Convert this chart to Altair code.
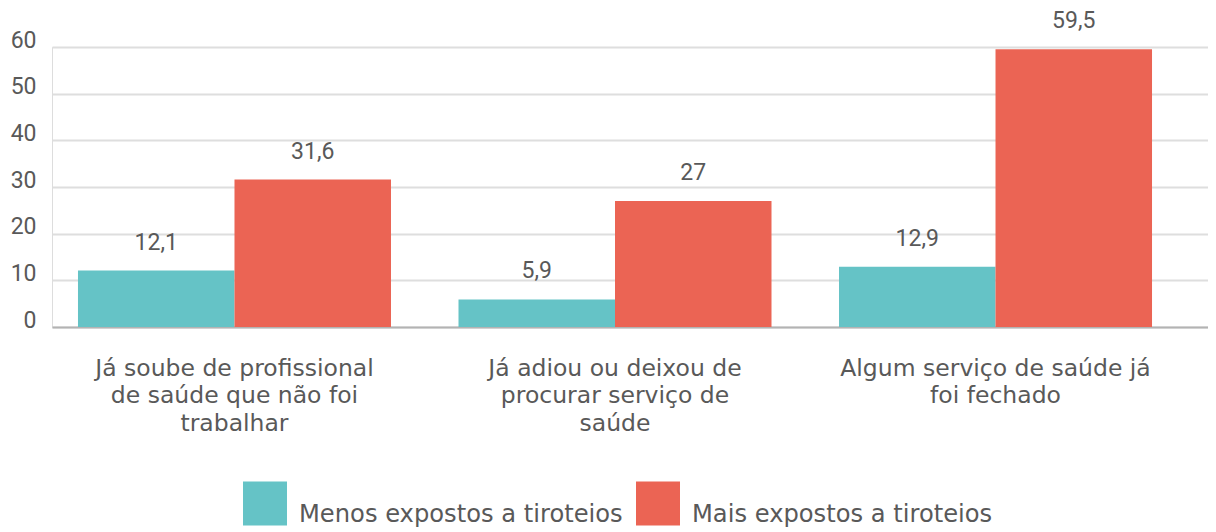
import altair as alt
import pandas as pd

categorias = [
    "Já soube de profissional\nde saúde que não foi\ntrabalhar",
    "Já adiou ou deixou de\nprocurar serviço de\nsaúde",
    "Algum serviço de saúde já\nfoi fechado",
]
grupos = ["Menos expostos a tiroteios", "Mais expostos a tiroteios"]
menos_expostos = [12.1, 5.9, 12.9]
mais_expostos = [31.6, 27, 59.5]
cores = ["#65C3C6", "#EB6454"]
ticks_y = [0, 10, 20, 30, 40, 50, 60]

linhas = []
for i, c in enumerate(categorias):
    for g, serie in zip(grupos, [menos_expostos, mais_expostos]):
        v = serie[i]
        linhas.append({"categoria": c, "grupo": g, "valor": v,
                       "rotulo": f"{v:g}".replace(".", ",")})
df = pd.DataFrame(linhas)

FONT = "Roboto"
TFONT = "DejaVu Sans"
GRAY = "#595959"

x_enc = alt.X("categoria:N", sort=categorias, title=None,
              scale=alt.Scale(paddingInner=0.1774, paddingOuter=0.1077, align=0.317),
              axis=alt.Axis(labelAngle=0, labelFontSize=23.5, labelColor=GRAY, labelFont=TFONT,
                            labelLineHeight=27.5, labelPadding=29, labelLimit=500,
                            labelExpr="split(datum.label, '\\n')",
                            ticks=False, domain=True, domainColor="#B3B3B3", domainWidth=2,
                            grid=False))
xo_enc = alt.XOffset("grupo:N", sort=grupos, scale=alt.Scale(paddingInner=0, paddingOuter=0))
y_enc = alt.Y("valor:Q", title=None,
              scale=alt.Scale(domain=[0, 60], nice=False),
              axis=alt.Axis(values=ticks_y, labelFontSize=23, labelColor=GRAY, labelFont=FONT,
                            labelPadding=16, labelOffset=-7, ticks=False, domain=False,
                            grid=True, gridColor="#DEDEDE", gridWidth=2))

bars = alt.Chart(df).mark_bar().encode(
    x=x_enc, xOffset=xo_enc, y=y_enc,
    color=alt.Color("grupo:N", sort=grupos,
                    scale=alt.Scale(domain=grupos, range=cores),
                    legend=alt.Legend(title=None, orient="none", direction="horizontal",
                                      legendX=191, legendY=434, padding=0,
                                      symbolType="square", symbolSize=1936,
                                      symbolStrokeWidth=0, symbolOpacity=1,
                                      labelFontSize=24.2, labelColor=GRAY, labelFont=TFONT,
                                      labelOffset=12, columnPadding=13, labelLimit=500,
                                      labelBaseline="top")),
)

texts = alt.Chart(df).mark_text(baseline="alphabetic", align="center", dy=-21,
                                fontSize=23, color=GRAY, font=FONT).encode(
    x=alt.X("categoria:N", sort=categorias),
    xOffset=alt.XOffset("grupo:N", sort=grupos),
    y=alt.Y("valor:Q"),
    text="rotulo:N",
)

chart = alt.layer(bars, texts).properties(
    width=1156, height=280,
    autosize=alt.AutoSizeParams(type="none"),
    padding={"left": 44, "top": 39, "right": 0, "bottom": 204},
).configure_view(stroke=None).configure(font=FONT, background="white")

chart.save("out.html", embed_options={"renderer": "svg", "actions": False})
